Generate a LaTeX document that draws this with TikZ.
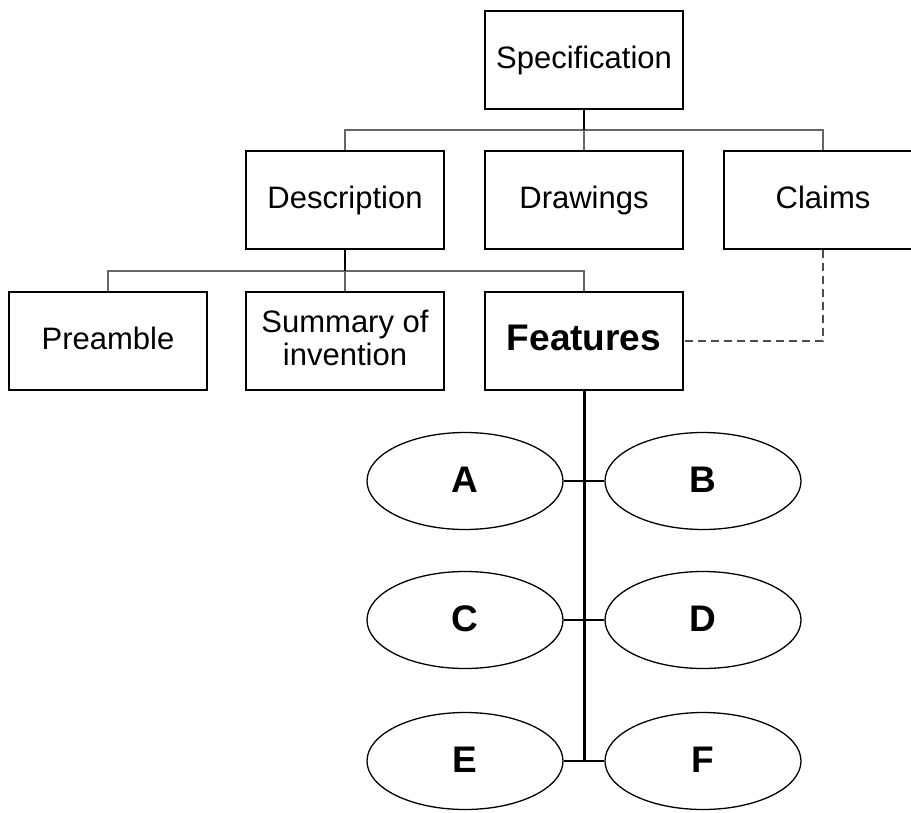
\documentclass[tikz,border=0pt]{standalone}
\usepackage{fontspec}
\setmainfont{Liberation Sans}
\usetikzlibrary{shapes.geometric,calc}
\begin{document}
\begin{tikzpicture}[x=1pt,y=1pt,
  box/.style={draw=black, line width=1.6pt, minimum width=198pt, minimum height=98pt, inner sep=0pt, align=center, text height=24pt, text depth=8pt, font=\fontsize{31}{33}\selectfont},
  boldbox/.style={box, text height=28pt, text depth=10pt, font=\bfseries\fontsize{37}{40}\selectfont},
  oval/.style={ellipse, draw=black, line width=1.3pt, minimum width=196pt, minimum height=97pt, inner sep=0pt, text height=30pt, text depth=8pt, font=\bfseries\fontsize{37}{40}\selectfont},
  bus/.style={draw=black!60, line width=1.8pt},
  stem/.style={draw=black, line width=2pt},
  trunk/.style={draw=black, line width=3pt},
  twig/.style={draw=black, line width=1.4pt},
  link/.style={draw=black!70, line width=1.5pt, dash pattern=on 8pt off 5pt}]
\useasboundingbox (0,0) rectangle (911,-812);
\clip (0,0) rectangle (911,-812);
\fill[white] (0,0) rectangle (911,-812);
% boxes
\node[box] (spec) at (584,-60) {Specification};
\node[box] (desc) at (345,-200) {Description};
\node[box] (draw) at (584,-200) {Drawings};
\node[box] (claims) at (823,-200) {Claims};
\node[box] (pre) at (108,-341) {Preamble};
\node[box, text height=57pt, text depth=8pt] (sum) at (345,-341) {Summary of\\invention};
\node[boldbox] (feat) at (584,-341) {Features};
% ellipses
\node[oval] (A) at (465,-481) {A};
\node[oval] (B) at (703,-481) {B};
\node[oval] (C) at (465,-620) {C};
\node[oval] (D) at (703,-620) {D};
\node[oval] (E) at (465,-761) {E};
\node[oval] (F) at (703,-761) {F};
% bus coordinates
\coordinate (bus1) at (584,-130);
\coordinate (bus2) at (345,-271);
% top level tree
\draw[bus] (desc.north) |- (bus1) -| (claims.north);
\draw[bus] (draw.north) -- (bus1);
\draw[stem] (spec.south) -- (bus1);
% second level tree
\draw[bus] (pre.north) |- (bus2) -| (feat.north);
\draw[bus] (sum.north) -- (bus2);
\draw[stem] (desc.south) -- (bus2);
% dashed link
\draw[link] (claims.south) |- (feat.east);
% trunk and twigs
\coordinate (tend) at (584,-761);
\draw[trunk] (feat.south) -- (tend);
\draw[twig] (A.east) -- (B.west);
\draw[twig] (C.east) -- (D.west);
\draw[twig] (E.east) -- (F.west);
\end{tikzpicture}
\end{document}
